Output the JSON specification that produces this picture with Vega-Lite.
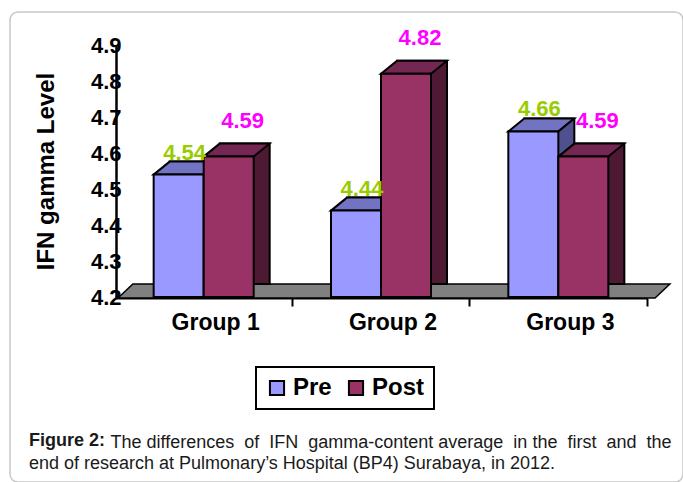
{
  "$schema": "https://vega.github.io/schema/vega-lite/v6.json",
  "width": 673,
  "height": 470,
  "autosize": {"type": "none"},
  "padding": {"left": 10, "top": 12, "right": 0, "bottom": 0},
  "background": "white",
  "config": {
    "view": {"stroke": "#c8c8c8", "strokeWidth": 1.5, "cornerRadius": 8},
    "font": "Liberation Sans"
  },
  "title": {
    "text": "Figure 2:",
    "subtitle": "end of research at Pulmonary\u2019s Hospital (BP4) Surabaya, in 2012.",
    "orient": "top",
    "anchor": "start",
    "frame": "group",
    "font": "Liberation Sans",
    "fontSize": 18,
    "fontWeight": "bold",
    "color": "#1a1a1a",
    "subtitleFont": "Liberation Sans",
    "subtitleFontSize": 18,
    "subtitleFontWeight": "normal",
    "subtitleColor": "#1a1a1a",
    "subtitlePadding": 5,
    "subtitleLineHeight": 23,
    "offset": 0,
    "baseline": "top",
    "dx": 19,
    "dy": 461
  },
  "data": {
    "values": [
      {"group": "Group 1", "series": "Pre", "value": 4.54},
      {"group": "Group 1", "series": "Post", "value": 4.59},
      {"group": "Group 2", "series": "Pre", "value": 4.44},
      {"group": "Group 2", "series": "Post", "value": 4.82},
      {"group": "Group 3", "series": "Pre", "value": 4.66},
      {"group": "Group 3", "series": "Post", "value": 4.59}
    ]
  },
  "resolve": {"scale": {"xOffset": "independent"}},
  "encoding": {
    "x": {
      "field": "group",
      "type": "nominal",
      "scale": {"domain": ["Group 1", "Group 2", "Group 3"], "range": [105, 637], "paddingInner": 0, "paddingOuter": 0},
      "axis": {
        "title": "The differences \u00a0of \u00a0IFN \u00a0gamma-content average \u00a0in the \u00a0first \u00a0and \u00a0the",
        "titleFont": "Liberation Sans",
        "titleFontSize": 18,
        "titleFontWeight": "normal",
        "titleColor": "#1a1a1a",
        "titleX": 100,
        "titleY": 149,
        "titleAlign": "left",
        "titleAnchor": "start",
        "titleBaseline": "alphabetic",
        "offset": -184,
        "domainColor": "black",
        "domainWidth": 2,
        "tickColor": "black",
        "tickWidth": 2,
        "tickSize": 8,
        "bandPosition": 1,
        "labelOffset": 12,
        "labelPadding": 5,
        "labelFont": "Liberation Sans",
        "labelFontSize": 23,
        "labelFontWeight": "bold",
        "labelColor": "black",
        "labelAngle": 0,
        "grid": false
      }
    },
    "y": {
      "field": "value",
      "type": "quantitative",
      "scale": {"domain": [4.2, 4.9], "range": [285, 33], "zero": false, "nice": false},
      "axis": {
        "title": "IFN gamma Level",
        "values": [4.2, 4.3, 4.4, 4.5, 4.6, 4.7, 4.8, 4.9],
        "format": ".1f",
        "offset": -106,
        "domainColor": "black",
        "domainWidth": 2.5,
        "ticks": false,
        "tickSize": 0,
        "labelPadding": -5,
        "labelFont": "Liberation Sans",
        "labelFontSize": 22,
        "labelFontWeight": "bold",
        "labelColor": "black",
        "labelOverlap": false,
        "labelFlush": false,
        "titleFont": "Liberation Sans",
        "titleFontSize": 24,
        "titleFontWeight": "bold",
        "titleColor": "black",
        "titleX": -58,
        "grid": false
      }
    }
  },
  "layer": [
    {
      "data": {"values": [{"group": "Group 2", "value": 4.2}]},
      "mark": {
        "type": "point",
        "shape": "M -0.974 0.004 L 1.015 0.004 L 1.07 -0.048 L -0.919 -0.048 Z",
        "size": 291600,
        "filled": true,
        "fill": "#808080",
        "stroke": "black",
        "strokeWidth": 1.5,
        "opacity": 1
      }
    },
    {
      "mark": {"type": "bar", "stroke": "black", "strokeWidth": 2, "yOffset": -13, "y2Offset": -13, "opacity": 1},
      "encoding": {
        "xOffset": {"field": "series", "type": "nominal", "sort": ["Pre", "Post"], "scale": {"type": "band", "range": [16, 193.33], "paddingInner": 0, "paddingOuter": 0.773}},
        "y2": {"datum": 4.2},
        "color": {"condition": {"test": "datum.series === 'Pre'", "value": "#50508F"}, "value": "#4D1933"}
      }
    },
    {
      "mark": {
        "type": "point",
        "shape": "M -0.5 0 L 0.5 0 L 0.82 -0.26 L -0.18 -0.26 Z",
        "size": 10000,
        "filled": true,
        "stroke": "black",
        "strokeWidth": 2,
        "opacity": 1
      },
      "encoding": {
        "xOffset": {"field": "series", "type": "nominal", "sort": ["Pre", "Post"], "scale": {"type": "band", "paddingInner": 0, "paddingOuter": 0.773}},
        "color": {"condition": {"test": "datum.series === 'Pre'", "value": "#7373C4"}, "value": "#742752"}
      }
    },
    {
      "mark": {"type": "bar", "stroke": "black", "strokeWidth": 2, "opacity": 1},
      "encoding": {
        "xOffset": {"field": "series", "type": "nominal", "sort": ["Pre", "Post"], "scale": {"type": "band", "paddingInner": 0, "paddingOuter": 0.773}},
        "y2": {"datum": 4.2},
        "color": {
          "field": "series",
          "type": "nominal",
          "scale": {"domain": ["Pre", "Post"], "range": ["#9999FF", "#993366"]},
          "legend": {
            "title": null,
            "orient": "none",
            "legendX": 246,
            "legendY": 355,
            "direction": "horizontal",
            "strokeColor": "black",
            "padding": 9,
            "symbolType": "square",
            "symbolSize": 200,
            "symbolStrokeColor": "black",
            "symbolStrokeWidth": 2,
            "symbolOpacity": 1,
            "labelFont": "Liberation Sans",
            "labelFontSize": 24,
            "labelFontWeight": "bold",
            "labelColor": "black",
            "columnPadding": 12,
            "labelOffset": 4,
            "encode": {"legend": {"update": {"strokeWidth": {"value": 2}}}}
          }
        }
      }
    },
    {
      "transform": [{"filter": "datum.series === 'Pre'"}],
      "mark": {"type": "text", "font": "Liberation Sans", "fontSize": 22, "fontWeight": "bold", "color": "#99CC00", "dx": 6, "dy": -22},
      "encoding": {
        "xOffset": {"field": "series", "type": "nominal", "sort": ["Pre", "Post"], "scale": {"type": "band", "domain": ["Pre", "Post"], "paddingInner": 0, "paddingOuter": 0.773}},
        "text": {"field": "value", "type": "quantitative", "format": ".2f"}
      }
    },
    {
      "transform": [{"filter": "datum.series === 'Post'"}],
      "mark": {"type": "text", "font": "Liberation Sans", "fontSize": 22, "fontWeight": "bold", "color": "#FF00FF", "dx": 14, "dy": -36},
      "encoding": {
        "xOffset": {"field": "series", "type": "nominal", "sort": ["Pre", "Post"], "scale": {"type": "band", "domain": ["Pre", "Post"], "paddingInner": 0, "paddingOuter": 0.773}},
        "text": {"field": "value", "type": "quantitative", "format": ".2f"}
      }
    }
  ]
}
